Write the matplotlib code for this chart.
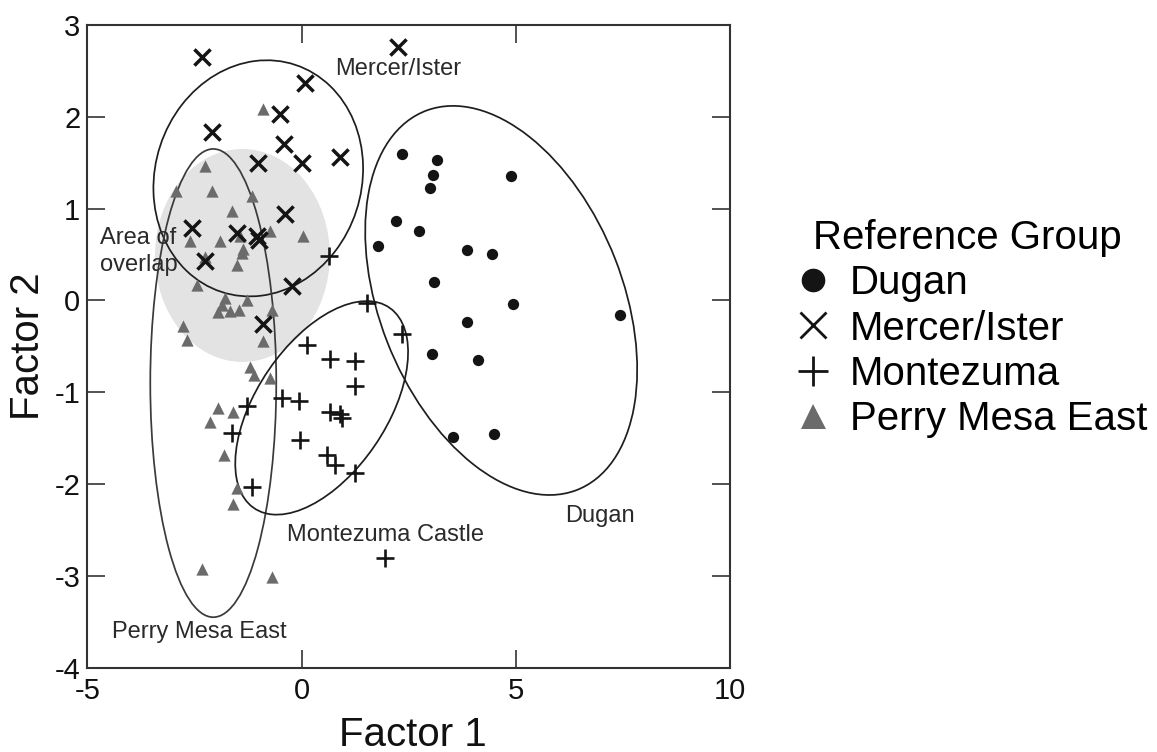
import matplotlib
matplotlib.use("Agg")
import matplotlib.pyplot as plt
from matplotlib.patches import Ellipse
from matplotlib.lines import Line2D

plt.rcParams["font.family"] = ["Liberation Sans", "DejaVu Sans"]
plt.rcParams["axes.unicode_minus"] = False

# Factor scores per reference group
dugan_x = [2.34, 3.16, 3.06, 3.00, 4.89, 2.20, 2.75, 1.78, 3.87, 4.45,
           3.10, 4.94, 3.86, 7.43, 3.05, 4.13, 3.54, 4.49]
dugan_y = [1.60, 1.53, 1.37, 1.23, 1.36, 0.87, 0.76, 0.59, 0.55, 0.51,
           0.20, -0.04, -0.24, -0.16, -0.58, -0.65, -1.49, -1.45]

mercer_x = [-2.33, 0.08, -0.50, -2.10, -0.42, -1.01, 0.00, 0.90, -0.39,
            -2.56, -1.51, -1.05, -1.00, -2.25, -0.23, -0.89, 2.26]
mercer_y = [2.65, 2.37, 2.03, 1.83, 1.70, 1.50, 1.50, 1.56, 0.94,
            0.79, 0.74, 0.70, 0.66, 0.43, 0.16, -0.26, 2.76]

montezuma_x = [1.52, 2.34, 0.12, 0.67, 1.25, 1.25, -0.46, -0.07, -1.28, 0.67,
               0.90, 0.94, -1.63, -0.04, 0.59, 0.78, 1.25, -1.16, 1.95, 0.63]
montezuma_y = [-0.03, -0.37, -0.48, -0.64, -0.66, -0.93, -1.06, -1.10, -1.15, -1.22,
               -1.24, -1.28, -1.44, -1.52, -1.68, -1.79, -1.88, -2.03, -2.81, 0.48]

perry_x = [-0.89, -2.25, -2.93, -2.10, -1.15, -1.63, 0.04, -0.74, -2.60, -1.90,
           -1.44, -1.36, -1.40, -1.51, -2.25, -2.45, -1.79, -1.28, -1.94, -1.67,
           -1.47, -0.70, -2.76, -2.68, -0.89, -1.20, -1.12, -0.74, -1.94, -2.14,
           -1.59, -1.82, -1.51, -1.59, -2.33, -0.70, -1.85]
perry_y = [2.08, 1.46, 1.19, 1.19, 1.14, 0.97, 0.70, 0.76, 0.65, 0.65,
           0.70, 0.56, 0.52, 0.39, 0.47, 0.17, 0.03, 0.01, -0.13, -0.12,
           -0.10, -0.10, -0.28, -0.43, -0.44, -0.73, -0.81, -0.84, -1.17, -1.32,
           -1.22, -1.68, -2.04, -2.22, -2.93, -3.01, -0.05]

# Group ellipses: centre, semi-axes and rotation (degrees), in factor units
ell_names = ["Mercer/Ister", "Perry Mesa East", "Montezuma Castle", "Dugan"]
ell_cx = [-1.01, -2.06, 0.47, 4.66]
ell_cy = [1.33, -0.90, -1.17, 0.00]
ell_a = [2.45, 1.47, 2.13, 3.31]
ell_b = [1.28, 2.55, 0.94, 1.90]
ell_angle = [3.4, 0.0, 21.0, -20.25]
ell_color = ["#1e1e1e", "#3a3a3a", "#1e1e1e", "#1e1e1e"]

# Shaded region where the groups overlap
overlap_cx, overlap_cy = -1.38, 0.49
overlap_rx, overlap_ry = 2.04, 1.16

# Ellipse captions
cap_text = ["Mercer/Ister", "Montezuma Castle", "Dugan", "Perry Mesa East"]
cap_x = [2.26, 1.95, 6.97, -2.39]
cap_y = [2.52, -2.56, -2.35, -3.61]

legend_labels = ["Dugan", "Mercer/Ister", "Montezuma", "Perry Mesa East"]

W, H = 1157, 752
fig = plt.figure(figsize=(W / 100, H / 100), dpi=100)
ax = fig.add_axes([87.3 / W, 1 - 667.7 / H, 642.7 / W, 642.7 / H])

ax.add_patch(Ellipse((overlap_cx, overlap_cy), 2 * overlap_rx, 2 * overlap_ry,
                     facecolor="#e3e3e3", edgecolor="none", zorder=0))

for cx, cy, a, b, ang, col in zip(ell_cx, ell_cy, ell_a, ell_b, ell_angle, ell_color):
    ax.add_patch(Ellipse((cx, cy), 2 * a, 2 * b, angle=ang, facecolor="none",
                         edgecolor=col, linewidth=1.25, zorder=1))

tri_col = "#6b6b6b"
ax.scatter(perry_x, perry_y, marker="^", s=78, color=tri_col, linewidths=0, zorder=2)
ax.scatter(dugan_x, dugan_y, marker="o", s=66, color="#141414", linewidths=0, zorder=3)
ax.scatter(montezuma_x, montezuma_y, marker="+", s=150, color="#141414",
           linewidths=1.9, zorder=3)
ax.scatter(mercer_x, mercer_y, marker="x", s=135, color="#141414",
           linewidths=2.5, zorder=3)

for t, x, y in zip(cap_text, cap_x, cap_y):
    ax.text(x, y, t, fontsize=17, color="#2a2a2a", ha="center", va="center", zorder=4)
ax.text(-4.70, 0.53, "Area of\noverlap", fontsize=17, color="#2a2a2a",
        ha="left", va="center", linespacing=1.3, zorder=4)

ax.set_xlim(-5, 10)
ax.set_ylim(-4, 3)
ax.set_xticks([-5, 0, 5, 10])
ax.set_yticks(range(-4, 4))
ax.tick_params(direction="in", length=13, width=1.1, color="#222222",
               top=True, right=True, labelsize=21, labelcolor="#111111")
ax.tick_params(axis="x", pad=7)
ax.tick_params(axis="y", pad=5)
for sp in ax.spines.values():
    sp.set_linewidth(1.5)
    sp.set_color("#333333")

ax.set_xlabel("Factor 1", fontsize=29, color="#111111")
ax.set_ylabel("Factor 2", fontsize=29, color="#111111")
ax.xaxis.set_label_coords(0.507, -0.075)
ax.yaxis.set_label_coords(-0.062, 0.5)

handles = [
    Line2D([], [], linestyle="none", marker="o", markersize=16, color="#141414"),
    Line2D([], [], linestyle="none", marker="x", markersize=19, markeredgewidth=2.0,
           color="#141414"),
    Line2D([], [], linestyle="none", marker="+", markersize=21, markeredgewidth=2.0,
           color="#141414"),
    Line2D([], [], linestyle="none", marker="^", markersize=18, color=tri_col,
           markeredgewidth=0),
]
fig.legend(handles, legend_labels, title="Reference Group", loc="upper left",
           bbox_to_anchor=(813 / W, 1 - 219 / H), frameon=False, fontsize=29,
           title_fontsize=29, borderpad=0, borderaxespad=0, handlelength=0,
           handletextpad=0.92, labelspacing=0.18, alignment="left")

fig.savefig("out.png", dpi=100)
